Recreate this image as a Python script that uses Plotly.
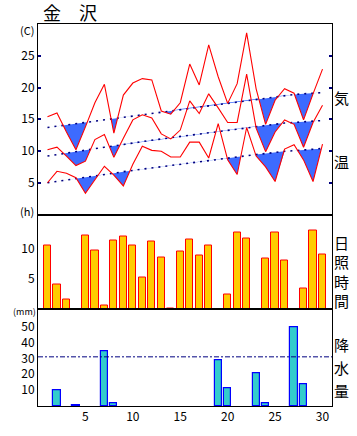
import plotly.graph_objects as go

days = list(range(1, 31))

t_max = [15.4, 16.0, 13.0, 10.2, 13.8, 17.6, 20.5, 12.8, 18.8, 20.7,
         21.4, 21.2, 16.3, 15.8, 17.6, 23.7, 20.4, 26.7, 21.7, 17.5,
         20.6, 28.6, 19.8, 14.2, 18.0, 19.8, 19.1, 14.9, 19.0, 22.9]
t_mean = [10.2, 10.6, 9.2, 7.7, 8.4, 11.8, 12.6, 9.0, 12.0, 14.9,
          15.7, 15.2, 12.7, 11.9, 13.3, 17.9, 15.9, 19.0, 16.8, 14.5,
          14.5, 22.1, 13.6, 9.9, 13.0, 14.9, 14.2, 10.6, 14.5, 17.2]
t_min = [5.0, 6.8, 6.5, 5.8, 3.35, 5.5, 7.6, 6.2, 4.5, 7.9,
         10.75, 10.1, 9.95, 9.05, 9.05, 11.4, 11.4, 8.9, 14.3, 8.6,
         6.3, 13.7, 9.2, 7.5, 5.2, 10.3, 11.0, 8.6, 5.2, 11.1]

n_max = [13.7, 13.9, 14.1, 14.3, 14.5, 14.7, 14.9, 15.1, 15.3, 15.5,
         15.7, 15.9, 16.1, 16.3, 16.6, 16.8, 17.0, 17.2, 17.4, 17.6,
         17.8, 18.0, 18.2, 18.4, 18.6, 18.75, 18.9, 19.0, 19.1, 19.2]
n_mean = [9.2, 9.45, 9.7, 9.9, 10.1, 10.35, 10.6, 10.8, 11.05, 11.3,
          11.5, 11.7, 11.9, 12.1, 12.3, 12.5, 12.7, 12.9, 13.1, 13.3,
          13.5, 13.7, 13.9, 14.1, 14.25, 14.4, 14.5, 14.6, 14.7, 14.8]
n_min = [5.0, 5.2, 5.4, 5.65, 5.85, 6.1, 6.3, 6.5, 6.75, 6.95,
         7.15, 7.35, 7.55, 7.75, 7.95, 8.15, 8.35, 8.5, 8.7, 8.9,
         9.05, 9.25, 9.45, 9.6, 9.8, 9.95, 10.05, 10.2, 10.3, 10.4]

sunshine = [10.5, 4.05, 1.6, 0, 12.2, 9.7, 0.65, 11.35, 12.0, 10.5,
            5.2, 11.2, 8.6, 0.15, 9.57, 11.5, 8.9, 10.5, 0, 2.4,
            12.7, 11.6, 0, 8.3, 12.7, 8.0, 0, 3.46, 12.9, 9.0]

precip = [0, 10.2, 0, 0.5, 0, 0, 34.6, 1.5, 0, 0,
          0, 0, 0, 0, 0, 0, 0, 0, 29.0, 11.5,
          0, 0, 20.8, 1.5, 0, 0, 49.6, 14.0, 0, 0]
precip_ref = 31

temp_ticks = [5, 10, 15, 20, 25]
sun_ticks = [5, 10]
prec_ticks = [10, 20, 30, 40, 50]
x_ticks = [5, 10, 15, 20, 25, 30]

RED = "#FF0000"
NAVY = "#000080"
BLUE_FILL = "#3D6BFF"
FONT = "Noto Sans CJK JP"

fig = go.Figure()


def below_fill(act, nrm):
    xs, ys_n, ys_a = [], [], []
    n = len(days)
    for i in range(n):
        xs.append(days[i]); ys_n.append(nrm[i]); ys_a.append(act[i])
        if i < n - 1:
            d0 = act[i] - nrm[i]
            d1 = act[i + 1] - nrm[i + 1]
            if d0 * d1 < 0:
                t = d0 / (d0 - d1)
                xc = days[i] + t * (days[i + 1] - days[i])
                yc = nrm[i] + t * (nrm[i + 1] - nrm[i])
                xs.append(xc); ys_n.append(yc); ys_a.append(yc)
    lower = [min(a, b) for a, b in zip(ys_a, ys_n)]
    fig.add_trace(go.Scatter(x=xs, y=ys_n, mode="lines", line=dict(width=0),
                             hoverinfo="skip", showlegend=False, xaxis="x", yaxis="y"))
    fig.add_trace(go.Scatter(x=xs, y=lower, mode="lines", line=dict(width=0),
                             fill="tonexty", fillcolor=BLUE_FILL,
                             hoverinfo="skip", showlegend=False, xaxis="x", yaxis="y"))


for a, nm in [(t_max, n_max), (t_mean, n_mean), (t_min, n_min)]:
    below_fill(a, nm)

for nm in [n_max, n_mean, n_min]:
    fig.add_trace(go.Scatter(x=days, y=nm, mode="lines",
                             line=dict(color=NAVY, width=1.6, dash="2px,5px"),
                             showlegend=False, xaxis="x", yaxis="y"))
for a in [t_max, t_mean, t_min]:
    fig.add_trace(go.Scatter(x=days, y=a, mode="lines",
                             line=dict(color=RED, width=1.1),
                             showlegend=False, xaxis="x", yaxis="y"))

fig.add_trace(go.Bar(x=days, y=[v if v > 0 else None for v in sunshine], width=0.76,
                     marker=dict(color="#FFCC00", line=dict(color=RED, width=1)),
                     showlegend=False, xaxis="x2", yaxis="y2"))

fig.add_trace(go.Bar(x=days, y=[v if v > 0 else None for v in precip], width=0.76,
                     marker=dict(color="#33CCCC", line=dict(color="#0000FF", width=1.2)),
                     showlegend=False, xaxis="x3", yaxis="y3"))
fig.add_trace(go.Scatter(x=[0, 31], y=[precip_ref, precip_ref], mode="lines",
                         line=dict(color=NAVY, width=1, dash="5px,2px,2px,2px"),
                         showlegend=False, xaxis="x3", yaxis="y3"))

L, R, T, B = 37.5, 332.3, 24, 411
W, H = 357, 436
top_split = (B - 217) / (B - T)
mid_split = (B - 313) / (B - T)

axis_common = dict(showline=True, linecolor="black", linewidth=1, mirror=True,
                   showgrid=False, zeroline=False, fixedrange=True)

fig.update_layout(
    width=W, height=H,
    margin=dict(l=L, r=W - R, t=T, b=H - B),
    paper_bgcolor="white", plot_bgcolor="white",
    font=dict(family=FONT, color="black", size=12),
    bargap=0,
    xaxis=dict(domain=[0, 1], range=[0, 31], anchor="y", showticklabels=False,
               ticks="", **axis_common),
    yaxis=dict(domain=[top_split, 1], range=[0, 30], anchor="x",
               tickvals=temp_ticks, ticks="inside", ticklen=3, tickwidth=1.5,
               tickcolor=NAVY, **{**axis_common, "mirror": "ticks"}),
    xaxis2=dict(domain=[0, 1], range=[0, 31], anchor="y2", showticklabels=False,
                ticks="", **axis_common),
    yaxis2=dict(domain=[mid_split, top_split], range=[0, 15.6], anchor="x2",
                tickvals=sun_ticks, ticks="", **axis_common),
    xaxis3=dict(domain=[0, 1], range=[0, 31], anchor="y3",
                tickvals=x_ticks, ticks="", **axis_common),
    yaxis3=dict(domain=[0, mid_split], range=[0, 61], anchor="x3",
                tickvals=prec_ticks, ticks="", **axis_common),
)


def px(x, y):
    return (x - L) / (R - L), (B - y) / (B - T)


anns = []


def add_text(text, x, y, size=12, xanchor="center"):
    xp, yp = px(x, y)
    anns.append(dict(text=text, x=xp, y=yp, xref="paper", yref="paper",
                     showarrow=False, xanchor=xanchor, yanchor="middle",
                     font=dict(size=size, family=FONT, color="black")))


add_text("金　沢", 41, 12, size=18, xanchor="left")
add_text("(C)", 35, 30, size=11, xanchor="right")
add_text("(h)", 35, 213, size=11, xanchor="right")
add_text("(mm)", 38, 315, size=9, xanchor="right")
for ch, yy in [("気", 98), ("温", 163), ("日", 245), ("照", 265), ("時", 285),
               ("間", 304), ("降", 349), ("水", 372), ("量", 395)]:
    add_text(ch, 342, yy, size=15)

fig.update_layout(annotations=anns)
fig.write_html("out.html", config={"displayModeBar": False},
               post_script="document.body.style.margin='0px';document.body.style.overflow='hidden';")
